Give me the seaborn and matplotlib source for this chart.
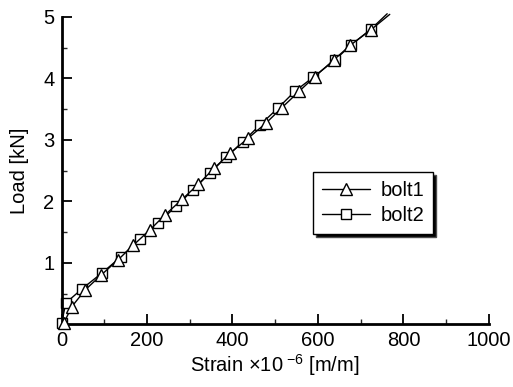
import matplotlib
matplotlib.use("Agg")
import matplotlib.pyplot as plt
import seaborn as sns
import pandas as pd
from matplotlib.ticker import MultipleLocator

bolt1_strain = [5, 24, 55, 92, 132, 168, 207, 242, 283, 320, 357, 394, 437, 478, 515, 556, 593, 637, 676, 724, 768]
bolt1_load = [0.02, 0.29, 0.56, 0.80, 1.05, 1.29, 1.54, 1.78, 2.04, 2.28, 2.54, 2.78, 3.03, 3.27, 3.52, 3.79, 4.03, 4.30, 4.54, 4.79, 5.04]
bolt2_strain = [0, 10, 48, 95, 139, 184, 226, 268, 308, 347, 385, 424, 464, 507, 546, 589, 640, 677, 724, 762]
bolt2_load = [0.02, 0.35, 0.58, 0.84, 1.10, 1.39, 1.65, 1.92, 2.19, 2.46, 2.72, 2.97, 3.24, 3.52, 3.79, 4.02, 4.30, 4.54, 4.80, 5.05]
series_names = ["bolt1", "bolt2"]
x_ticks = [0, 200, 400, 600, 800, 1000]
y_ticks = [1, 2, 3, 4, 5]

sns.set_theme(style="white")
plt.rcParams["font.family"] = ["Liberation Sans", "DejaVu Sans"]
plt.rcParams["mathtext.fontset"] = "custom"
plt.rcParams["mathtext.rm"] = "Liberation Sans"
plt.rcParams["mathtext.it"] = "Liberation Sans"
plt.rcParams["text.color"] = "black"
plt.rcParams["axes.labelcolor"] = "black"

fig = plt.figure(figsize=(5.13, 3.87), dpi=100)
ax = fig.add_axes([0.12, 0.1615, 0.833, 0.795])

df1 = pd.DataFrame({"x": bolt1_strain, "y": bolt1_load})
df2 = pd.DataFrame({"x": bolt2_strain, "y": bolt2_load})

sns.lineplot(data=df1, x="x", y="y", sort=False, ax=ax, color="black", lw=1.0,
             marker="^", markersize=9, markerfacecolor="white", markeredgecolor="black",
             markeredgewidth=1.0, markevery=list(range(len(bolt1_strain) - 1)),
             label=series_names[0], clip_on=False, zorder=3)
sns.lineplot(data=df2, x="x", y="y", sort=False, ax=ax, color="black", lw=1.0,
             marker="s", markersize=7.5, markerfacecolor="white", markeredgecolor="black",
             markeredgewidth=1.0, markevery=list(range(len(bolt2_strain) - 1)),
             label=series_names[1], clip_on=False, zorder=2)

ax.set_xlim(0, 1000)
ax.set_ylim(0, 5)
ax.set_xticks(x_ticks)
ax.set_yticks(y_ticks)
ax.xaxis.set_minor_locator(MultipleLocator(100))
ax.yaxis.set_minor_locator(MultipleLocator(0.5))
ax.tick_params(which="major", direction="in", length=7, width=1.3, labelsize=14.5,
               colors="black", bottom=True, left=True, pad=5)
ax.tick_params(which="minor", direction="in", length=3.5, width=1.0, bottom=True, left=True)

for s in ["top", "right"]:
    ax.spines[s].set_visible(False)
for s in ["left", "bottom"]:
    ax.spines[s].set_linewidth(2.0)
    ax.spines[s].set_color("black")

ax.set_xlabel(r"Strain $\times$10$^{\ \mathregular{-6}}$ [m/m]", fontsize=14.5, labelpad=1,
              color="black")
ax.set_ylabel("Load [kN]", fontsize=14.5, labelpad=10, color="black")

leg = ax.legend(loc="upper left", bbox_to_anchor=(0.588, 0.496), fontsize=14.5,
                frameon=True, fancybox=False, edgecolor="black", handlelength=2.4,
                borderpad=0.45, labelspacing=0.3, handletextpad=0.5, borderaxespad=0,
                shadow={"facecolor": "black", "alpha": 1.0})
leg.get_frame().set_linewidth(1.0)
for t in leg.get_texts():
    t.set_color("black")

fig.savefig("out.png", dpi=100)
